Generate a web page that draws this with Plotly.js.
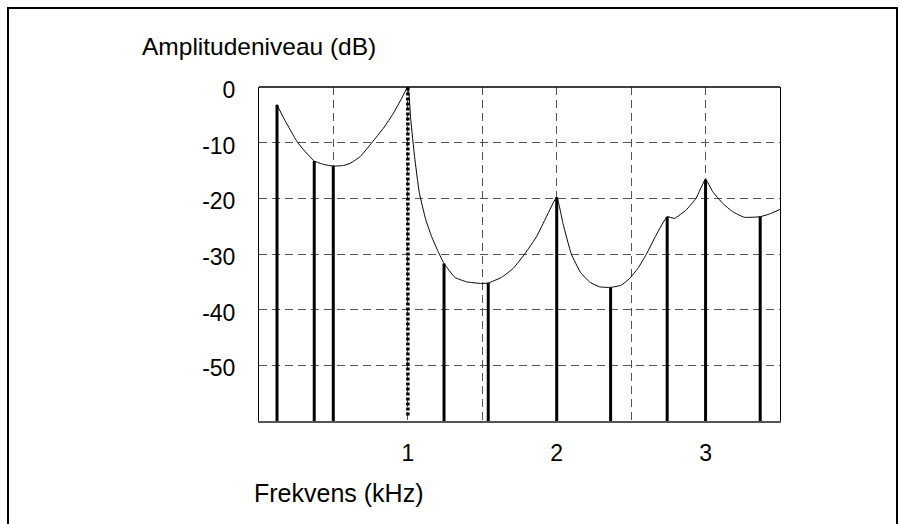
<!DOCTYPE html>
<html>
<head>
<meta charset="utf-8">
<script src="https://cdn.plot.ly/plotly-3.0.1.min.js"></script>
<style>
  html, body { margin: 0; padding: 0; background: #fff; }
  #chart { width: 901px; height: 524px; }
</style>
</head>
<body>
<div id="chart"></div>
<script>
// Partial frequencies (kHz) and their amplitude levels (dB)
const partialFreq = [0.121, 0.371, 0.499, 1.0, 1.243, 1.54, 2.0, 2.362, 2.742, 3.0, 3.367];
const partialLevel = [-3.2, -13.3, -14.2, 0, -31.7, -35.2, -19.8, -36.0, -23.3, -16.6, -23.3];

// Index of the fundamental, drawn dotted
const fundamentalIndex = 3;

// Spectral envelope traced over the partials
const envFreq = [0.121, 0.166, 0.21, 0.255, 0.30, 0.345, 0.371, 0.434, 0.499, 0.568, 0.613, 0.68,
  0.758, 0.836, 0.903, 0.959, 1.0, 1.02, 1.045, 1.077, 1.12, 1.16, 1.204, 1.243, 1.316, 1.395, 1.495,
  1.54, 1.629, 1.707, 1.785, 1.864, 1.931, 2.0, 2.042, 2.098, 2.16, 2.225, 2.288, 2.362, 2.434,
  2.489, 2.545, 2.601, 2.668, 2.742, 2.791, 2.869, 2.936, 3.0, 3.048, 3.115, 3.182, 3.26, 3.367,
  3.43, 3.5];
const envLevel = [-3.2, -5.6, -7.7, -9.8, -11.3, -12.6, -13.3, -13.9, -14.2, -14.1, -13.7, -12.5,
  -10.0, -7.4, -4.7, -2.0, 0, -6.0, -12.5, -19.0, -23.8, -26.9, -29.6, -31.7, -34.2, -35.0, -35.3,
  -35.2, -34.2, -32.6, -30.0, -26.9, -23.3, -19.8, -24.5, -30.0, -33.3, -35.1, -35.9, -36.0, -35.6,
  -34.4, -32.6, -30.1, -26.6, -23.3, -23.6, -22.1, -20.0, -16.6, -18.8, -20.9, -22.4, -23.4, -23.3,
  -22.8, -22.0];

// Axis ticks
const xTickVals = [0.5, 1, 1.5, 2, 2.5, 3];
const xTickText = ['', '1', '', '2', '', '3'];
const yTickVals = [0, -10, -20, -30, -40, -50];
const yTickText = ['0', '-10', '-20', '-30', '-40', '-50'];

const yFloor = -60;
const xTitle = 'Frekvens (kHz)';
const yTitle = 'Amplitudeniveau (dB)';

// Stems: one polyline per group, separated by nulls
const stemX = [], stemY = [];
const fundX = [], fundY = [];
partialFreq.forEach((f, i) => {
  if (i === fundamentalIndex) {
    fundX.push(f, f);
    fundY.push(yFloor + 1, partialLevel[i]);
  } else {
    stemX.push(f, f, null);
    stemY.push(yFloor, partialLevel[i], null);
  }
});

const W = 901, H = 524;
const M = { l: 259, r: 121, t: 87, b: 103 };
const pw = W - M.l - M.r, ph = H - M.t - M.b;
const px = x => (x - M.l) / pw;
const py = y => (H - M.b - y) / ph;

const FONT = 'Liberation Sans, Arial, Helvetica, sans-serif';

const traces = [
  { x: stemX, y: stemY, mode: 'lines', line: { color: '#000', width: 3 }, hoverinfo: 'skip' },
  { x: fundX, y: fundY, mode: 'lines', line: { color: '#000', width: 3.5, dash: '3px,2px' }, hoverinfo: 'skip' },
  { x: envFreq, y: envLevel, mode: 'lines', line: { color: '#000', width: 1, shape: 'spline', smoothing: 0.4 }, hoverinfo: 'skip' }
];

const layout = {
  width: W, height: H,
  margin: M,
  paper_bgcolor: '#fff', plot_bgcolor: '#fff',
  showlegend: false,
  font: { family: FONT, size: 22, color: '#000' },
  xaxis: {
    range: [0, 3.5], tickvals: xTickVals, ticktext: xTickText,
    showgrid: true, gridcolor: '#555', gridwidth: 1, griddash: '8px,5px',
    zeroline: false, showline: true, linecolor: '#555', linewidth: 2,
    ticks: '', ticklabelstandoff: 10,
    tickfont: { family: FONT, size: 23, color: '#000' }
  },
  yaxis: {
    range: [yFloor, 0], tickvals: yTickVals, ticktext: yTickText,
    showgrid: true, gridcolor: '#555', gridwidth: 1, griddash: '8px,5px',
    zeroline: false, showline: true, linecolor: '#000', linewidth: 1, mirror: true,
    ticks: '', ticklabelstandoff: 18, ticklabelshift: 3,
    tickfont: { family: FONT, size: 23, color: '#000' }
  },
  shapes: [
    // top edge of the plot box
    { type: 'line', xref: 'paper', yref: 'paper', x0: 0, x1: 1, y0: 1, y1: 1, line: { color: '#000', width: 1.5 } },
    // outer frame
    { type: 'rect', xref: 'paper', yref: 'paper', x0: px(8), x1: px(897), y0: py(8), y1: py(540),
      line: { color: '#000', width: 2 } }
  ],
  annotations: [
    { text: yTitle, xref: 'paper', yref: 'paper', x: px(140), y: py(47), xanchor: 'left', yanchor: 'middle',
      showarrow: false, font: { family: FONT, size: 24.5, color: '#000' } },
    { text: xTitle, xref: 'paper', yref: 'paper', x: px(252), y: py(493), xanchor: 'left', yanchor: 'middle',
      showarrow: false, font: { family: FONT, size: 25, color: '#000' } }
  ]
};

Plotly.newPlot('chart', traces, layout, { staticPlot: true, displayModeBar: false });
</script>
</body>
</html>
